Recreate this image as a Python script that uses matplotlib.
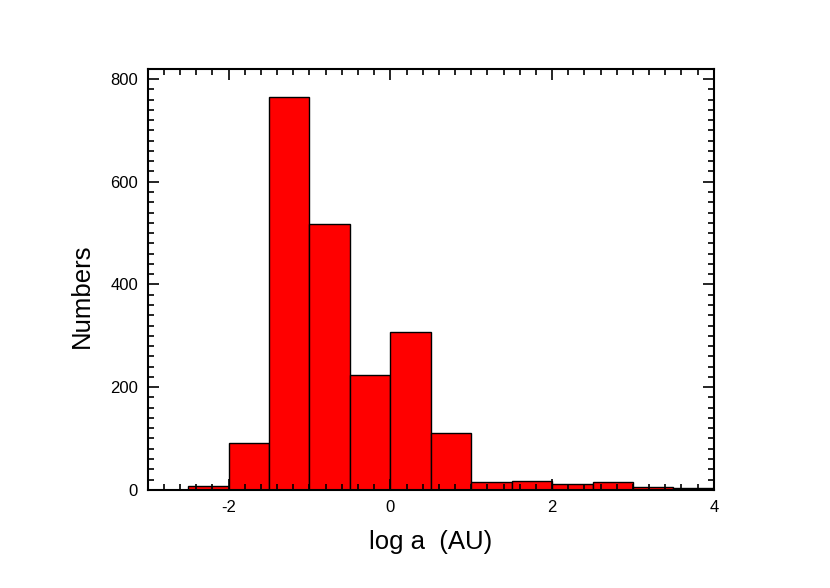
import matplotlib
matplotlib.use("Agg")
import matplotlib.pyplot as plt
from matplotlib.ticker import MultipleLocator

plt.rcParams['font.family'] = ['Liberation Sans', 'DejaVu Sans']
plt.rcParams['axes.unicode_minus'] = False

bin_edges = [-2.5, -2.0, -1.5, -1.0, -0.5, 0.0, 0.5, 1.0, 1.5, 2.0, 2.5, 3.0, 3.5, 4.0]
counts = [8, 91, 765, 517, 224, 308, 111, 16, 18, 12, 15, 6, 4]

fig = plt.figure(figsize=(8.3, 5.88), dpi=100)
ax = fig.add_axes([0.178, 0.167, 0.682, 0.716])

lefts = bin_edges[:-1]
widths = [b - a for a, b in zip(bin_edges[:-1], bin_edges[1:])]
ax.bar(lefts, counts, width=widths, align='edge', color='#ff0000',
       edgecolor='black', linewidth=1.0)

ax.set_xlim(-3, 4)
ax.set_ylim(0, 820)
ax.xaxis.set_major_locator(MultipleLocator(2))
ax.xaxis.set_minor_locator(MultipleLocator(0.2))
ax.yaxis.set_major_locator(MultipleLocator(200))
ax.yaxis.set_minor_locator(MultipleLocator(20))
ax.tick_params(which='both', direction='in', top=True, right=True, width=1.2,
               labelsize=12)
ax.tick_params(which='major', length=8, pad=7)
ax.tick_params(which='minor', length=4)
for s in ax.spines.values():
    s.set_linewidth(1.5)

ax.set_xlabel('log a  (AU)', fontsize=18.5, labelpad=11)
ax.set_ylabel('Numbers', fontsize=18.5)
ax.yaxis.set_label_coords(-0.095, 0.46)

fig.savefig('out.png', dpi=100)
